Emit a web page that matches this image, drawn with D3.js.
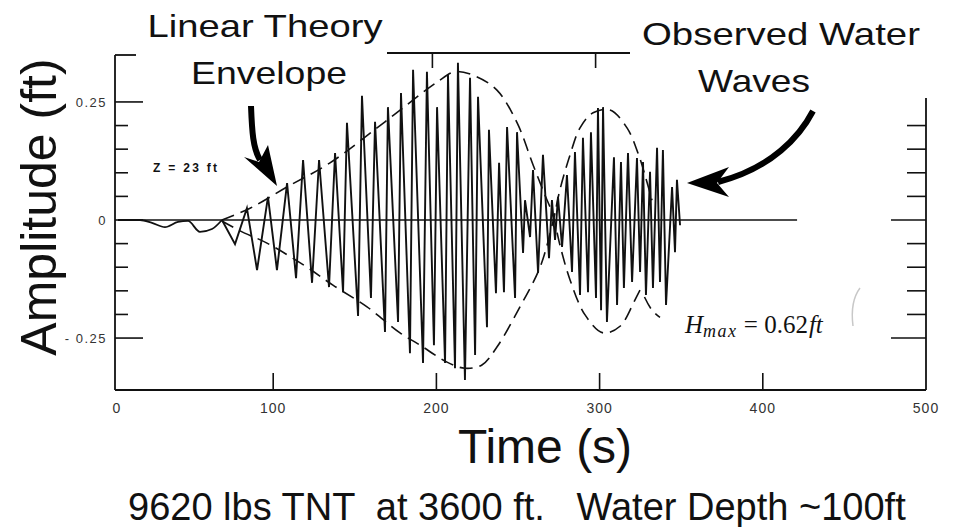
<!DOCTYPE html>
<html><head><meta charset="utf-8">
<script src="https://cdn.jsdelivr.net/npm/d3@7"></script>
<style>
html,body{margin:0;padding:0;background:#fff;}
svg{display:block;}
text{font-family:"Liberation Sans",Arial,Helvetica,sans-serif;fill:#111;}
</style></head><body>
<svg id="chart" width="954" height="527"></svg>
<script>
// ---------- data ----------
const xTickValues = [100, 200, 300, 400];
const xLabelValues = [0, 100, 200, 300, 400, 500];
const xLabelTexts = ["0", "100", "200", "300", "400", "500"];
const yTickValues = [0.25, 0.2, 0.15, 0.1, 0.05, 0, -0.05, -0.1, -0.15, -0.2, -0.25];
const yRightTickValues = [0.2, 0.15, 0.1, 0.05, 0, -0.05, -0.1, -0.15, -0.2, -0.25];
const yMajorValues = [0.25, 0, -0.25];
const yLabelValues = [0.25, 0, -0.25];
const yLabelTexts = ["0.25", "0", "- 0.25"];
const topTickValues = [200, 300];

// observed water waves: smooth early disturbance (time s, amplitude ft)
const leadTime = [4.9, 18.4, 25.7, 33.7, 41.7, 47.8, 55.1, 62.5, 68.6];
const leadAmp = [0, 0, -0.006, -0.015, -0.004, -0.002, -0.025, -0.019, 0];

// observed water waves: crest/trough vertices
const waveTime = [68.6,
  76.6, 83.9, 90.1, 96.8, 102.3, 108.5, 114.0, 118.3, 123.8, 128.1, 134.2, 137.9, 142.8, 145.2,
  152.0, 154.4, 159.9, 162.4, 168.5, 170.3, 176.5, 178.3, 183.8, 185.7, 191.8, 194.2, 198.5, 200.4,
  205.3, 207.1, 211.4, 213.2, 217.5, 220.6, 223.7, 225.5, 231.0, 232.2, 236.5, 238.4, 241.4, 243.3,
  248.2, 249.4, 253.1, 254.3, 257.4, 259.2, 262.3, 265.3, 269.0, 270.8, 272.7, 274.5, 277.0, 280.0,
  283.1, 284.9, 288.0, 289.8, 292.9, 294.7, 297.8, 299.0, 300.9, 302.1, 304.5, 308.8, 310.7, 313.1,
  314.9, 317.4, 319.9, 322.9, 324.8, 326.6, 328.4, 330.9, 332.7, 335.2, 337.0, 338.8, 340.7, 344.4,
  346.2, 347.4, 349.3];
const waveAmp = [0,
  -0.051, 0.025, -0.106, 0.049, -0.106, 0.078, -0.123, 0.127, -0.133, 0.127, -0.142, 0.142, -0.153, 0.206,
  -0.203, 0.263, -0.165, 0.208, -0.237, 0.239, -0.216, 0.269, -0.282, 0.318, -0.303, 0.314, -0.265, 0.239,
  -0.303, 0.307, -0.314, 0.333, -0.339, 0.301, -0.286, 0.261, -0.227, 0.191, -0.155, 0.121, -0.153, 0.197,
  -0.165, 0.186, -0.070, 0.042, -0.036, 0.106, -0.112, 0.138, -0.081, 0.042, -0.042, 0.049, -0.057, 0.095,
  -0.110, 0.144, -0.159, 0.174, -0.153, 0.186, -0.165, 0.237, -0.191, 0.239, -0.216, 0.133, -0.180, 0.123,
  -0.144, 0.142, -0.131, 0.131, -0.110, 0.123, -0.159, 0.102, -0.144, 0.153, -0.131, 0.148, -0.180, 0.070,
  -0.068, 0.085, -0.011];

// linear theory envelope (dashed), two crossing branches plus a tail
const envATime = [68.6, 85.8, 108.5, 134.8, 168.5, 200.4, 211.4, 223.7, 237.1, 249.4, 259.2, 266.5, 271.4,
  275.7, 281.9, 291.1, 302.1, 312.5, 321.7, 326.0];
const envAAmp = [0, 0.025, 0.070, 0.121, 0.208, 0.292, 0.314, 0.305, 0.275, 0.206, 0.117, 0.053, 0.011,
  -0.053, -0.127, -0.201, -0.239, -0.225, -0.169, -0.140];
const envBTime = [68.6, 79.7, 96.2, 120.7, 136.6, 157.5, 177.7, 190.0, 206.5, 217.5, 227.9, 237.1, 251.2,
  263.5, 271.4, 275.7, 281.9, 288.0, 296.0, 306.4, 316.8, 323.5, 327.8, 332.1];
const envBAmp = [-0.002, -0.023, -0.049, -0.100, -0.138, -0.184, -0.239, -0.265, -0.301, -0.314, -0.307,
  -0.269, -0.184, -0.100, -0.004, 0.064, 0.138, 0.195, 0.227, 0.233, 0.195, 0.142, 0.095, 0.042];
const envTailTime = [327.5, 332.1, 337.0];
const envTailAmp = [-0.163, -0.191, -0.206];
const zeroLineTime = [5, 421];

// ---------- layout ----------
const svg = d3.select("#chart");
const x = d3.scaleLinear().domain([0, 500]).range([110, 926]);
const y = d3.scaleLinear().domain([-0.36, 0.36]).range([390, 50]);
const frameLeft = 115, frameBottom = 390, frameRight = 926;
const ink = "#111";

const g = svg.append("g");

// frame
g.append("line").attr("x1", frameLeft).attr("x2", frameLeft).attr("y1", 55).attr("y2", frameBottom)
  .attr("stroke", ink).attr("stroke-width", 1.8);
g.append("line").attr("x1", frameLeft).attr("x2", 136).attr("y1", 55).attr("y2", 55)
  .attr("stroke", ink).attr("stroke-width", 1.8);
g.append("line").attr("x1", frameLeft).attr("x2", frameRight).attr("y1", frameBottom).attr("y2", frameBottom)
  .attr("stroke", ink).attr("stroke-width", 1.8);
g.append("line").attr("x1", frameRight).attr("x2", frameRight).attr("y1", 98).attr("y2", frameBottom)
  .attr("stroke", ink).attr("stroke-width", 1.8);
g.append("line").attr("x1", 387).attr("x2", 630).attr("y1", 53).attr("y2", 53)
  .attr("stroke", ink).attr("stroke-width", 1.8);
g.selectAll(".ttick").data(topTickValues).join("line")
  .attr("x1", d => x(d) - 4).attr("x2", d => x(d) - 4).attr("y1", 53).attr("y2", 68)
  .attr("stroke", ink).attr("stroke-width", 1.6);

// bottom ticks (inward)
g.selectAll(".xtick").data(xTickValues).join("line")
  .attr("x1", d => x(d)).attr("x2", d => x(d)).attr("y1", frameBottom).attr("y2", frameBottom - 17)
  .attr("stroke", ink).attr("stroke-width", 1.6);
g.selectAll(".xlab").data(xLabelValues).join("text")
  .attr("x", (d, i) => x(d) + (i === 0 ? 7 : 0)).attr("y", 413)
  .attr("text-anchor", "middle").attr("font-size", 14).attr("letter-spacing", 1)
  .style("fill", "#333").text((d, i) => xLabelTexts[i]);

// left ticks
g.selectAll(".ytick").data(yTickValues).join("line")
  .attr("x1", frameLeft).attr("x2", d => frameLeft + (yMajorValues.includes(d) ? 28 : 13))
  .attr("y1", d => y(d)).attr("y2", d => y(d))
  .attr("stroke", ink).attr("stroke-width", 1.6);
g.selectAll(".ylab").data(yLabelValues).join("text")
  .attr("x", 107).attr("y", d => y(d) + 5)
  .attr("text-anchor", "end").attr("font-size", 13).attr("letter-spacing", 1.5)
  .style("fill", "#333").text((d, i) => yLabelTexts[i]);

// right ticks
g.selectAll(".rtick").data(yRightTickValues).join("line")
  .attr("x1", frameRight).attr("x2", d => frameRight - (yMajorValues.includes(d) ? 35 : 19))
  .attr("y1", d => y(d)).attr("y2", d => y(d))
  .attr("stroke", ink).attr("stroke-width", 1.6);

// zero line
g.append("line").attr("x1", x(zeroLineTime[0])).attr("x2", x(zeroLineTime[1]))
  .attr("y1", y(0)).attr("y2", y(0)).attr("stroke", ink).attr("stroke-width", 1.6);

// envelopes
const envLine = d3.line().x(d => x(d[0])).y(d => y(d[1])).curve(d3.curveCatmullRom.alpha(0.5));
[[envATime, envAAmp], [envBTime, envBAmp], [envTailTime, envTailAmp]].forEach(([tt, aa]) => {
  g.append("path").attr("d", envLine(tt.map((t, i) => [t, aa[i]])))
    .attr("fill", "none").attr("stroke", ink).attr("stroke-width", 1.6)
    .attr("stroke-dasharray", "13,7");
});

// wave signal: smooth lead-in then zigzag
const leadLine = d3.line().x(d => x(d[0])).y(d => y(d[1])).curve(d3.curveMonotoneX);
g.append("path").attr("d", leadLine(leadTime.map((t, i) => [t, leadAmp[i]])))
  .attr("fill", "none").attr("stroke", ink).attr("stroke-width", 1.8);
const waveLine = d3.line().x(d => x(d[0])).y(d => y(d[1]));
g.append("path").attr("d", waveLine(waveTime.map((t, i) => [t, waveAmp[i]])))
  .attr("fill", "none").attr("stroke", ink).attr("stroke-width", 1.9)
  .attr("stroke-linejoin", "miter").attr("stroke-miterlimit", 6);

// annotation arrows
g.append("path").attr("d", "M251,106 C252,132 253,148 260,160")
  .attr("fill", "none").attr("stroke", "#000").attr("stroke-width", 6);
g.append("path").attr("d", "M277,186 L244,157 L259,162 L268,145 Z").attr("fill", "#000");
g.append("path").attr("d", "M813,111 C800,136 772,168 718,182")
  .attr("fill", "none").attr("stroke", "#000").attr("stroke-width", 6);
g.append("path").attr("d", "M687,183 L729,167 L717,183 L729,197 Z").attr("fill", "#000");
// faint scan mark
g.append("path").attr("d", "M853,326 C851,310 854,296 860,288")
  .attr("fill", "none").attr("stroke", "#c8c8c8").attr("stroke-width", 1.5);

// texts
svg.append("text").attr("x", 265).attr("y", 37).attr("text-anchor", "middle")
  .attr("font-size", 32).attr("textLength", 235).attr("lengthAdjust", "spacingAndGlyphs").text("Linear Theory");
svg.append("text").attr("x", 269).attr("y", 84).attr("text-anchor", "middle")
  .attr("font-size", 32).attr("textLength", 156).attr("lengthAdjust", "spacingAndGlyphs").text("Envelope");
svg.append("text").attr("x", 781).attr("y", 45).attr("text-anchor", "middle")
  .attr("font-size", 32).attr("textLength", 278).attr("lengthAdjust", "spacingAndGlyphs").text("Observed Water");
svg.append("text").attr("x", 754).attr("y", 92).attr("text-anchor", "middle")
  .attr("font-size", 32).attr("textLength", 112).attr("lengthAdjust", "spacingAndGlyphs").text("Waves");

svg.append("text").attr("transform", "translate(56,207) rotate(-90)").attr("text-anchor", "middle")
  .attr("font-size", 50).text("Amplitude (ft)");
svg.append("text").attr("x", 545).attr("y", 463).attr("text-anchor", "middle")
  .attr("font-size", 48).text("Time (s)");
svg.append("text").attr("x", 128).attr("y", 520).attr("font-size", 38)
  .style("white-space", "pre").attr("xml:space", "preserve")
  .text("9620 lbs TNT  at 3600 ft.   Water Depth ~100ft");

svg.append("text").attr("x", 153).attr("y", 172).attr("font-size", 12).attr("font-weight", "bold")
  .attr("letter-spacing", 2.3).text("Z = 23 ft");

const hm = svg.append("text").attr("x", 685).attr("y", 333)
  .style("font-family", "'Liberation Serif','DejaVu Serif',serif").attr("font-size", 25);
hm.append("tspan").attr("font-style", "italic").text("H");
hm.append("tspan").attr("font-style", "italic").attr("font-size", 18).attr("dy", 4).attr("letter-spacing", 1.5).text("max");
hm.append("tspan").attr("dy", -4).style("white-space", "pre").text(" = 0.62");
hm.append("tspan").attr("font-style", "italic").attr("dx", 1).text("ft");
</script>
</body></html>
